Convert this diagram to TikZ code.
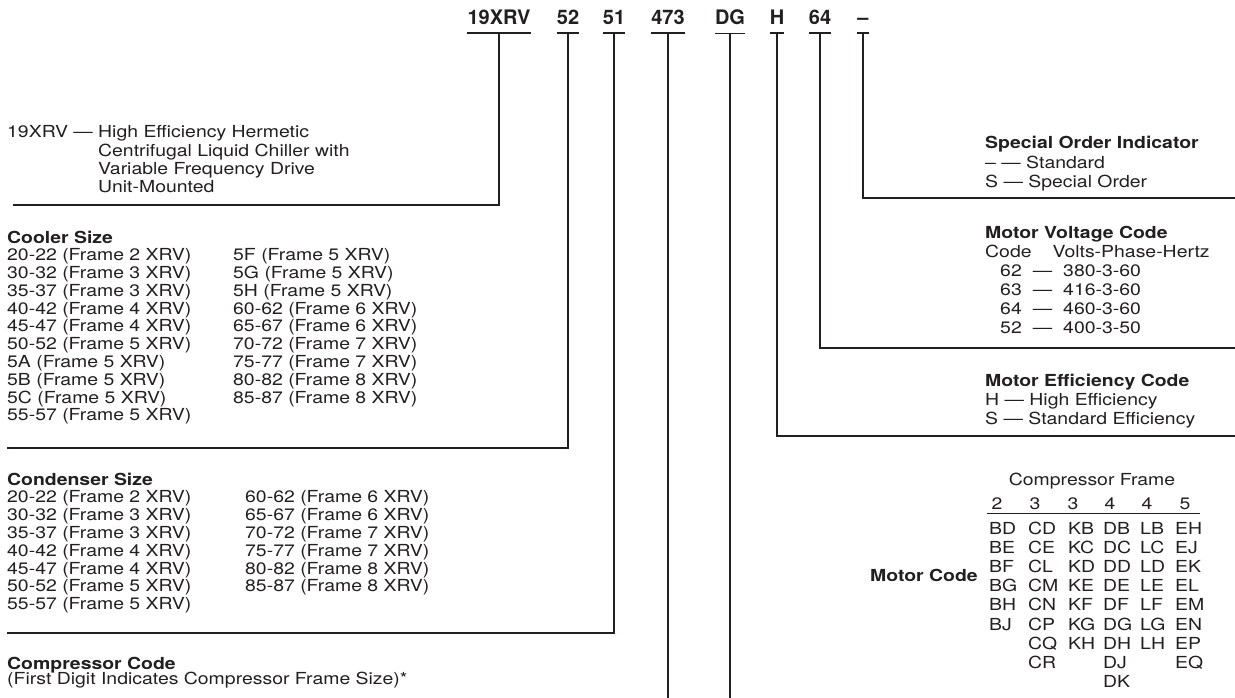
\documentclass[tikz,border=0pt]{standalone}
\usepackage{fontspec}
\setmainfont{TeX Gyre Heros}[FakeStretch=1.17]
\newfontfamily\codefont{TeX Gyre Heros}
\usepackage{tikz}
\definecolor{ink}{HTML}{231F20}
\tikzset{
  code/.style={font=\codefont\bfseries\fontsize{20}{24}\selectfont,
               inner sep=0pt, anchor=base},
  txt/.style={font=\fontsize{16.6}{17.8}\selectfont, inner sep=0pt,
              anchor=base west},
  htxt/.style={font=\fontsize{16.6}{18.3}\selectfont, inner sep=0pt,
               anchor=base west},
  rtxt/.style={font=\fontsize{16.6}{19.2}\selectfont, inner sep=0pt,
               anchor=base west},
  head/.style={font=\fontsize{16.6}{19.2}\selectfont, inner sep=0pt,
               anchor=base},
  lead/.style={draw=ink, line width=1.8pt},
  rule/.style={draw=ink, line width=1pt}
}

\begin{document}
\begin{tikzpicture}[x=1pt,y=-1pt,every node/.append style={text=ink}]
  \fill[white] (0,0) rectangle (1235,698);
  \useasboundingbox (0,0) rectangle (1235,698);

  % model number
  \node[code] (c19)  at (499,25) {19XRV};
  \node[code] (c52)  at (568,25) {52};
  \node[code] (c51)  at (614,25) {51};
  \node[code] (c473) at (668,25) {473};
  \node[code] (cdg)  at (730,25) {DG};
  \node[code] (ch)   at (777,25) {H};
  \node[code] (c64)  at (820,25) {64};
  \node[code] (cso)  at (863,25) {–};

  % line ends
  \coordinate (e19) at (13,205);
  \coordinate (e52) at (7,448);
  \coordinate (e51) at (7,633);
  \coordinate (bot) at (0,698);
  \coordinate (eh)  at (1235,436);
  \coordinate (e64) at (1235,348);
  \coordinate (eso) at (1235,198);

  % left side
  \node[htxt] (chiller) at (7,138) {\begin{tabular}[t]{@{}l@{\ }l@{}}
    19XRV — & High Efficiency Hermetic\\
    & Centrifugal Liquid Chiller with\\
    & Variable Frequency Drive\\
    & Unit-Mounted
  \end{tabular}};

  \node[txt] (cooler) at (7,243) {\begin{tabular}[t]{@{}p{226pt}@{}l@{}}
    \multicolumn{2}{@{}l@{}}{\textbf{Cooler Size}}\\
    20-22 (Frame 2 XRV) & 5F (Frame 5 XRV)\\
    30-32 (Frame 3 XRV) & 5G (Frame 5 XRV)\\
    35-37 (Frame 3 XRV) & 5H (Frame 5 XRV)\\
    40-42 (Frame 4 XRV) & 60-62 (Frame 6 XRV)\\
    45-47 (Frame 4 XRV) & 65-67 (Frame 6 XRV)\\
    50-52 (Frame 5 XRV) & 70-72 (Frame 7 XRV)\\
    5A (Frame 5 XRV) & 75-77 (Frame 7 XRV)\\
    5B (Frame 5 XRV) & 80-82 (Frame 8 XRV)\\
    5C (Frame 5 XRV) & 85-87 (Frame 8 XRV)\\
    55-57 (Frame 5 XRV) &
  \end{tabular}};

  \node[txt] (condenser) at (7,485) {\begin{tabular}[t]{@{}p{238pt}@{}l@{}}
    \multicolumn{2}{@{}l@{}}{\textbf{Condenser Size}}\\
    20-22 (Frame 2 XRV) & 60-62 (Frame 6 XRV)\\
    30-32 (Frame 3 XRV) & 65-67 (Frame 6 XRV)\\
    35-37 (Frame 3 XRV) & 70-72 (Frame 7 XRV)\\
    40-42 (Frame 4 XRV) & 75-77 (Frame 7 XRV)\\
    45-47 (Frame 4 XRV) & 80-82 (Frame 8 XRV)\\
    50-52 (Frame 5 XRV) & 85-87 (Frame 8 XRV)\\
    55-57 (Frame 5 XRV) &
  \end{tabular}};

  \node[txt] (compressor) at (7,669) {\begin{tabular}[t]{@{}l@{}}
    \textbf{Compressor Code}\\[-2pt]
    (First Digit Indicates Compressor Frame Size)*
  \end{tabular}};

  % right side
  \node[rtxt] (special) at (985,149) {\begin{tabular}[t]{@{}l@{}}
    \textbf{Special Order Indicator}\\
    – — Standard\\
    S — Special Order
  \end{tabular}};

  \node[rtxt] (voltage) at (985,238) {\begin{tabular}[t]{@{}l@{}}
    \textbf{Motor Voltage Code}\\
    Code\hspace{21pt}Volts-Phase-Hertz\\
    \hspace*{15pt}62\hspace{11pt}—\hspace{11pt}380-3-60\\
    \hspace*{15pt}63\hspace{11pt}—\hspace{11pt}416-3-60\\
    \hspace*{15pt}64\hspace{11pt}—\hspace{11pt}460-3-60\\
    \hspace*{15pt}52\hspace{11pt}—\hspace{11pt}400-3-50
  \end{tabular}};

  \node[rtxt] (efficiency) at (985,386) {\begin{tabular}[t]{@{}l@{}}
    \textbf{Motor Efficiency Code}\\
    H — High Efficiency\\
    S — Standard Efficiency
  \end{tabular}};

  % motor code table
  \node[head] (frame) at (1092,485) {Compressor Frame};
  \node[head] (f2)  at (997,509)  {2};
  \node[head] (f3a) at (1035,509) {3};
  \node[head] (f3b) at (1073,509) {3};
  \node[head] (f4a) at (1110,509) {4};
  \node[head] (f4b) at (1147,509) {4};
  \node[head] (f5)  at (1185,509) {5};
  \draw[rule] (987,513) -- (1200,513);

  \node[rtxt] (m2) at (989,534) {\begin{tabular}[t]{@{}l@{}}
    BD\\ BE\\ BF\\ BG\\ BH\\ BJ\end{tabular}};
  \node[rtxt] (m3a) at (1028,534) {\begin{tabular}[t]{@{}l@{}}
    CD\\ CE\\ CL\\ CM\\ CN\\ CP\\ CQ\\ CR\end{tabular}};
  \node[rtxt] (m3b) at (1068,534) {\begin{tabular}[t]{@{}l@{}}
    KB\\ KC\\ KD\\ KE\\ KF\\ KG\\ KH\end{tabular}};
  \node[rtxt] (m4a) at (1103,534) {\begin{tabular}[t]{@{}l@{}}
    DB\\ DC\\ DD\\ DE\\ DF\\ DG\\ DH\\ DJ\\ DK\end{tabular}};
  \node[rtxt] (m4b) at (1140,534) {\begin{tabular}[t]{@{}l@{}}
    LB\\ LC\\ LD\\ LE\\ LF\\ LG\\ LH\end{tabular}};
  \node[rtxt] (m5) at (1175,534) {\begin{tabular}[t]{@{}l@{}}
    EH\\ EJ\\ EK\\ EL\\ EM\\ EN\\ EP\\ EQ\end{tabular}};
  \node[rtxt, font=\bfseries\fontsize{16.6}{19.2}\selectfont] (motor) at (870,581) {Motor Code};

  % leaders
  \draw[lead] ([yshift=-8pt]c19.south west) -- ([yshift=-8pt]c19.south east)
    ([yshift=-8pt]c19.south) |- (e19);
  \draw[lead] ([yshift=-8pt]c52.south west) -- ([yshift=-8pt]c52.south east)
    ([yshift=-8pt]c52.south) |- (e52);
  \draw[lead] ([yshift=-8pt]c51.south west) -- ([yshift=-8pt]c51.south east)
    ([yshift=-8pt]c51.south) |- (e51);
  \draw[lead] ([yshift=-8pt]c473.south west) -- ([yshift=-8pt]c473.south east)
    ([yshift=-8pt]c473.south) -- (c473 |- bot);
  \draw[lead] ([yshift=-8pt]cdg.south west) -- ([yshift=-8pt]cdg.south east)
    ([yshift=-8pt]cdg.south) -- (cdg |- bot);
  \draw[lead] ([yshift=-8pt]ch.south west) -- ([yshift=-8pt]ch.south east)
    ([yshift=-8pt]ch.south) |- (eh);
  \draw[lead] ([yshift=-8pt]c64.south west) -- ([yshift=-8pt]c64.south east)
    ([yshift=-8pt]c64.south) |- (e64);
  \draw[lead] ([yshift=-8pt]cso.south west) -- ([yshift=-8pt]cso.south east)
    ([yshift=-8pt]cso.south) |- (eso);
\end{tikzpicture}
\end{document}
